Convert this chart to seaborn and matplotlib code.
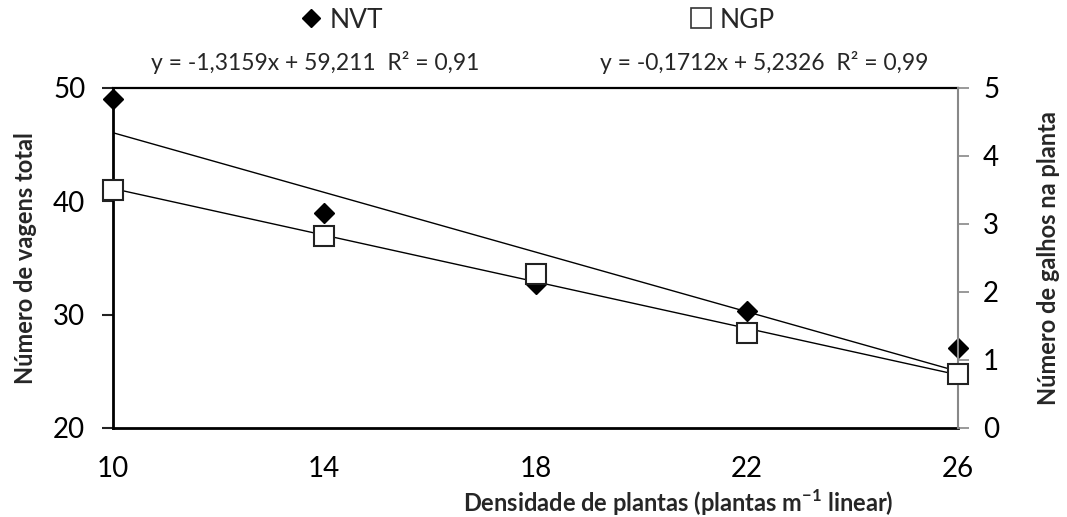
import numpy as np
import pandas as pd
import matplotlib
matplotlib.use("Agg")
import matplotlib.pyplot as plt
import seaborn as sns
from matplotlib.lines import Line2D

density = [10, 14, 18, 22, 26]
nvt = [49.0, 39.0, 32.7, 30.3, 27.1]
ngp = [3.50, 2.83, 2.27, 1.40, 0.80]
nvt_coef = (-1.3159, 59.211)
ngp_coef = (-0.1712, 5.2326)
eq_nvt = "y = -1,3159x + 59,211  R² = 0,91"
eq_ngp = "y = -0,1712x + 5,2326  R² = 0,99"
x_ticks = [10, 14, 18, 22, 26]
left_ticks = [20, 30, 40, 50]
right_ticks = [0, 1, 2, 3, 4, 5]

sns.set_theme(style="white")
plt.rcParams['font.family'] = ['Lato', 'DejaVu Sans']

df = pd.DataFrame({"x": density, "nvt": nvt, "ngp": ngp})
xs = np.array([density[0], density[-1]])
trend = pd.DataFrame({"x": xs,
                      "nvt": nvt_coef[0] * xs + nvt_coef[1],
                      "ngp": ngp_coef[0] * xs + ngp_coef[1]})

W, H = 1067, 517
fig = plt.figure(figsize=(W / 100, H / 100), dpi=100)
L, R, T, B = 113, 958, 88, 428
ax = fig.add_axes([L / W, 1 - B / H, (R - L) / W, (B - T) / H])
ax2 = ax.twinx()

sns.lineplot(data=trend, x="x", y="nvt", ax=ax, color="black", lw=1.0, zorder=2)
sns.lineplot(data=trend, x="x", y="ngp", ax=ax2, color="black", lw=1.0, zorder=2)
ax.plot(df["x"], df["nvt"], ls="none", marker="D", ms=10.5, mfc="black", mec="black", zorder=3, clip_on=False)
ax2.plot(df["x"], df["ngp"], ls="none", marker="s", ms=15, mfc="white", mec="#222222", mew=1.5, zorder=4, clip_on=False)

ax.set_xlim(10, 26)
ax.set_ylim(20, 50)
ax2.set_ylim(0, 5)
ax.set_xticks(x_ticks)
ax.set_yticks(left_ticks)
ax2.set_yticks(right_ticks)
ax.tick_params(axis="both", labelsize=20, direction="out", length=8, width=1.5, colors="#222222", labelcolor="black")
ax.tick_params(axis="x", pad=12)
ax.tick_params(axis="y", pad=12)
ax2.tick_params(axis="y", labelsize=20, direction="out", length=8, width=1.2, colors="#888888", labelcolor="black", pad=10)

for sp in ["left", "bottom", "top"]:
    ax.spines[sp].set_color("black")
    ax.spines[sp].set_linewidth(2)
ax.spines["top"].set_linewidth(1.6)
ax.spines["right"].set_visible(False)
for sp in ["left", "bottom", "top"]:
    ax2.spines[sp].set_visible(False)
ax2.spines["right"].set_color("#888888")
ax2.spines["right"].set_linewidth(1.5)
ax.grid(False); ax2.grid(False)
ax.patch.set_visible(False)

xl = ax.set_xlabel("Densidade de plantas (plantas m$^{\\mathregular{-1}}$ linear)", fontsize=17, fontweight="bold")
xl.set_va("center")
ax.xaxis.set_label_coords((678 - L) / (R - L), -(503 - B) / (B - T))
yl = ax.set_ylabel("Número de vagens total", fontsize=17, fontweight="bold")
yl.set_va("center"); yl.set_ha("center")
ax.yaxis.set_label_coords(-(L - 26) / (R - L), 0.5)
yr = ax2.set_ylabel("Número de galhos na planta", fontsize=17, fontweight="bold", rotation=90)
yr.set_va("center"); yr.set_ha("center")
ax2.yaxis.set_label_coords(1 + (1049 - R) / (R - L), 0.5)

h1 = Line2D([], [], ls="none", marker="D", ms=9.5, mfc="black", mec="black")
h2 = Line2D([], [], ls="none", marker="s", ms=15, mfc="white", mec="#333333", mew=1.2)
for h, lab, cx in [(h1, "NVT", 342), (h2, "NGP", 733)]:
    fig.legend(handles=[h], labels=[lab], loc="center", bbox_to_anchor=(cx / W, 1 - 20 / H),
               frameon=False, fontsize=19, handlelength=0.8, handletextpad=0.3, borderpad=0)

fig.text(315 / W, 1 - 62 / H, eq_nvt, ha="center", va="center", fontsize=16.5)
fig.text(764 / W, 1 - 62 / H, eq_ngp, ha="center", va="center", fontsize=16.5)

fig.savefig("out.png", dpi=100)
